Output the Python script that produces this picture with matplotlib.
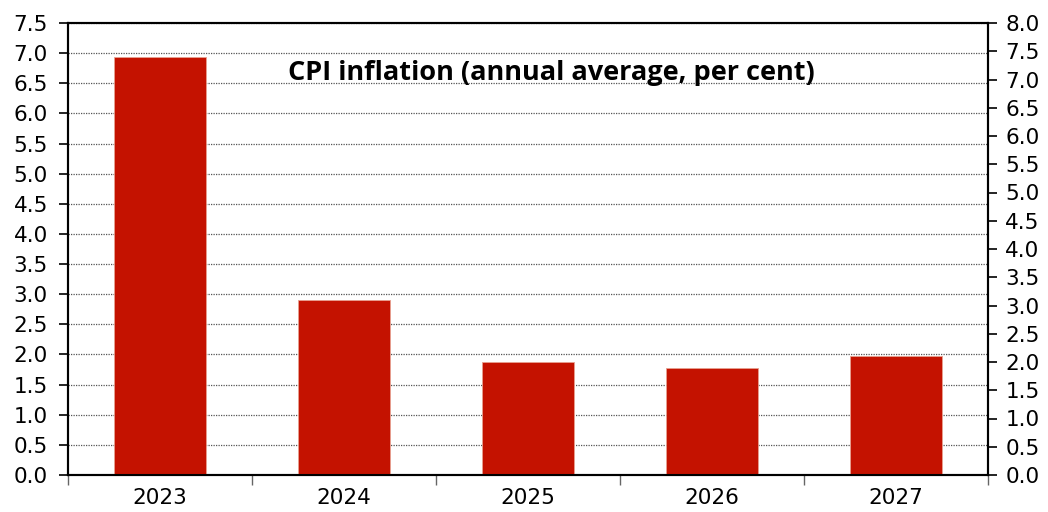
import matplotlib
matplotlib.use("Agg")
import matplotlib.pyplot as plt

# Chart data
years = ["2023", "2024", "2025", "2026", "2027"]
cpi = [6.93, 2.90, 1.87, 1.77, 1.97]
left_ticks = [i * 0.5 for i in range(16)]
right_ticks = [i * 0.5 for i in range(17)]

plt.rcParams["font.family"] = ["DejaVu Sans"]

fig = plt.figure(figsize=(10.48, 5.12), dpi=100)
ax = fig.add_axes([68 / 1048, 1 - 475 / 512, 920 / 1048, 452 / 512])

x = list(range(len(years)))
ax.bar(x, cpi, width=0.5, color="#c41200", edgecolor="#e8a090", linewidth=0.6, zorder=3)

ax.set_xlim(-0.5, len(years) - 0.5)
ax.set_ylim(0, 7.5)
ax.set_yticks(left_ticks)
ax.set_yticklabels([f"{t:.1f}" for t in left_ticks], fontsize=15.5)
ax.yaxis.grid(True, linestyle=(0, (1, 1)), color="#555555", linewidth=0.9, zorder=0)

# category labels in the middle, tick marks on boundaries
ax.set_xticks(x)
ax.set_xticklabels(years, fontsize=15.5)
ax.tick_params(axis="x", which="major", length=0, pad=9)
ax.set_xticks([i + 0.5 for i in range(-1, len(years))], minor=True)
ax.tick_params(axis="x", which="minor", length=7, width=1, color="#666666", direction="out")
ax.tick_params(axis="y", length=6.5, width=1.2, direction="out", pad=8)

for s in ax.spines.values():
    s.set_linewidth(1.5)
    s.set_color("black")

ax2 = ax.twinx()
ax2.set_ylim(0, 8.0)
ax2.set_yticks(right_ticks)
ax2.set_yticklabels([f"{t:.1f}" for t in right_ticks], fontsize=15.5)
ax2.tick_params(axis="y", length=6.5, width=1.2, direction="out", pad=6)
for s in ax2.spines.values():
    s.set_linewidth(1.5)

ax.text(0.525, 0.89, "CPI inflation (annual average, per cent)", transform=ax.transAxes,
        ha="center", va="center", fontsize=19.5, fontweight="bold",
        family=["Open Sans", "DejaVu Sans"], zorder=5)

plt.savefig("out.png", dpi=100)
plt.close()
